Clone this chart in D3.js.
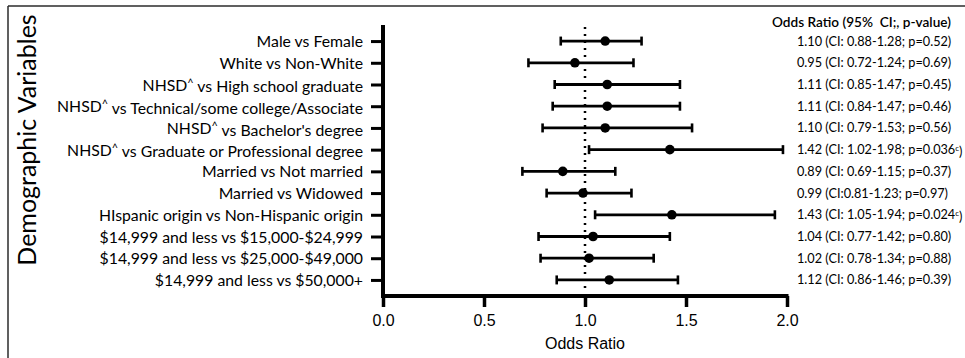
<!DOCTYPE html>
<html>
<head>
<meta charset="utf-8">
<script src="https://cdn.jsdelivr.net/npm/d3@7"></script>
<style>
  body { margin: 0; background: #fff; }
  svg { display: block; }
</style>
</head>
<body>
<div id="chart"></div>
<script>
// rows, top to bottom
const labels = [
  "Male vs Female",
  "White vs Non-White",
  "NHSD^ vs High school graduate",
  "NHSD^ vs Technical/some college/Associate",
  "NHSD^ vs Bachelor's degree",
  "NHSD^ vs Graduate or Professional degree",
  "Married vs Not married",
  "Married vs Widowed",
  "HIspanic origin vs Non-Hispanic origin",
  "$14,999 and less vs $15,000-$24,999",
  "$14,999 and less vs $25,000-$49,000",
  "$14,999 and less vs $50,000+"
];
const oddsRatio = [1.10, 0.95, 1.11, 1.11, 1.10, 1.42, 0.89, 0.99, 1.43, 1.04, 1.02, 1.12];
const ciLow     = [0.88, 0.72, 0.85, 0.84, 0.79, 1.02, 0.69, 0.81, 1.05, 0.77, 0.78, 0.86];
const ciHigh    = [1.28, 1.24, 1.47, 1.47, 1.53, 1.98, 1.15, 1.23, 1.94, 1.42, 1.34, 1.46];
const annot = [
  "1.10 (CI: 0.88-1.28; p=0.52)",
  "0.95 (CI: 0.72-1.24; p=0.69)",
  "1.11 (CI: 0.85-1.47; p=0.45)",
  "1.11 (CI: 0.84-1.47; p=0.46)",
  "1.10 (CI: 0.79-1.53; p=0.56)",
  "1.42 (CI: 1.02-1.98; p=0.036^c)",
  "0.89 (CI: 0.69-1.15; p=0.37)",
  "0.99 (CI:0.81-1.23; p=0.97)",
  "1.43 (CI: 1.05-1.94; p=0.024^c)",
  "1.04 (CI: 0.77-1.42; p=0.80)",
  "1.02 (CI: 0.78-1.34; p=0.88)",
  "1.12 (CI: 0.86-1.46; p=0.39)"
];
const xTicks = [0, 0.5, 1.0, 1.5, 2.0];
const refLine = 1.0;

const W = 965, H = 358;
const plot = {left: 383, right: 787, top: 25, bottom: 296};
const labelFont = "Lato, 'Open Sans', sans-serif";
const axisFont = "'Liberation Sans', Arial, sans-serif";

const data = labels.map((l, i) => ({label: l, or: oddsRatio[i], lo: ciLow[i], hi: ciHigh[i], txt: annot[i]}));

const svg = d3.select("#chart").append("svg")
  .attr("width", W).attr("height", H);

// frame lines (top and left)
svg.append("line").attr("x1", 8).attr("x2", W).attr("y1", 6).attr("y2", 6)
  .attr("stroke", "#2b2b2b").attr("stroke-width", 1.5);
svg.append("line").attr("x1", 8).attr("x2", 8).attr("y1", 6).attr("y2", H)
  .attr("stroke", "#2b2b2b").attr("stroke-width", 1.5);

const x = d3.scaleLinear().domain([0, 2]).range([plot.left, plot.right]);
const y = d3.scalePoint().domain(labels).range([plot.top, plot.bottom]).padding(0.74);

// reference line at OR = 1
svg.append("line")
  .attr("x1", x(refLine)).attr("x2", x(refLine))
  .attr("y1", plot.top + 2).attr("y2", plot.bottom - 6)
  .attr("stroke", "#000").attr("stroke-width", 2.5)
  .attr("stroke-dasharray", "2,5");

// y axis
const gy = svg.append("g")
  .attr("transform", "translate(" + plot.left + ",0)")
  .call(d3.axisLeft(y).tickSize(12).tickSizeOuter(0));
gy.select(".domain").attr("stroke-width", 4).attr("d", "M0," + plot.top + "V" + (plot.bottom + 2));
gy.selectAll(".tick line").attr("stroke-width", 3);
gy.selectAll(".tick text").remove();

// y tick labels with superscript ^
gy.selectAll(".tick").append("text")
  .attr("x", -20).attr("dy", "0.35em")
  .attr("text-anchor", "end")
  .attr("fill", "#000")
  .style("font-family", labelFont).style("font-size", "15.8px")
  .each(function(d) {
    const t = d3.select(this);
    const parts = d.split("^");
    if (parts.length === 1) { t.text(d); return; }
    t.append("tspan").text(parts[0]);
    t.append("tspan").attr("dy", "-0.35em").style("font-size", "11px").text("^");
    t.append("tspan").attr("dy", "0.35em").text(parts[1]);
  });

// x axis
const gx = svg.append("g")
  .attr("transform", "translate(0," + plot.bottom + ")")
  .call(d3.axisBottom(x).tickValues(xTicks).tickFormat(d3.format(".1f")).tickSize(11).tickSizeOuter(0).tickPadding(8));
gx.select(".domain").attr("stroke-width", 4).attr("d", "M" + (plot.left - 2) + ",0H" + (plot.right + 1.5));
gx.selectAll(".tick line").attr("stroke-width", 3.5);
gx.selectAll(".tick text").attr("fill", "#000")
  .style("font-family", axisFont).style("font-size", "16px");

// axis titles
svg.append("text")
  .attr("x", x(1)).attr("y", 349)
  .attr("text-anchor", "middle")
  .style("font-family", axisFont).style("font-size", "16px")
  .text("Odds Ratio");

svg.append("text")
  .attr("transform", "translate(36," + 140 + ") rotate(-90)")
  .attr("text-anchor", "middle")
  .style("font-family", labelFont).style("font-size", "25px")
  .text("Demographic Variables");

// error bars
const rows = svg.append("g").selectAll("g").data(data).enter().append("g")
  .attr("transform", d => "translate(0," + y(d.label) + ")");

rows.append("line")
  .attr("x1", d => x(d.lo)).attr("x2", d => x(d.hi))
  .attr("stroke", "#000").attr("stroke-width", 2.8);
rows.append("line")
  .attr("x1", d => x(d.lo)).attr("x2", d => x(d.lo))
  .attr("y1", -4.5).attr("y2", 4.5)
  .attr("stroke", "#000").attr("stroke-width", 2.6);
rows.append("line")
  .attr("x1", d => x(d.hi)).attr("x2", d => x(d.hi))
  .attr("y1", -4.5).attr("y2", 4.5)
  .attr("stroke", "#000").attr("stroke-width", 2.6);
rows.append("circle")
  .attr("cx", d => x(d.or)).attr("r", 4.8)
  .attr("fill", "#000");

// right annotations
svg.append("text")
  .attr("x", 772).attr("y", 27)
  .attr("xml:space", "preserve")
  .style("font-family", labelFont).style("font-size", "13.6px").style("font-weight", 600)
  .text("Odds Ratio (95%  CI;, p-value)");

rows.append("text")
  .attr("x", 797).attr("dy", "0.35em")
  .style("font-family", labelFont).style("font-size", "12.7px")
  .each(function(d) {
    const t = d3.select(this);
    const parts = d.txt.split("^");
    if (parts.length === 1) { t.text(d.txt); return; }
    t.append("tspan").text(parts[0]);
    t.append("tspan").attr("dy", "-0.4em").style("font-size", "8px").text(parts[1].slice(0, 1));
    t.append("tspan").attr("dy", "0.4em").text(parts[1].slice(1));
  });
</script>
</body>
</html>
